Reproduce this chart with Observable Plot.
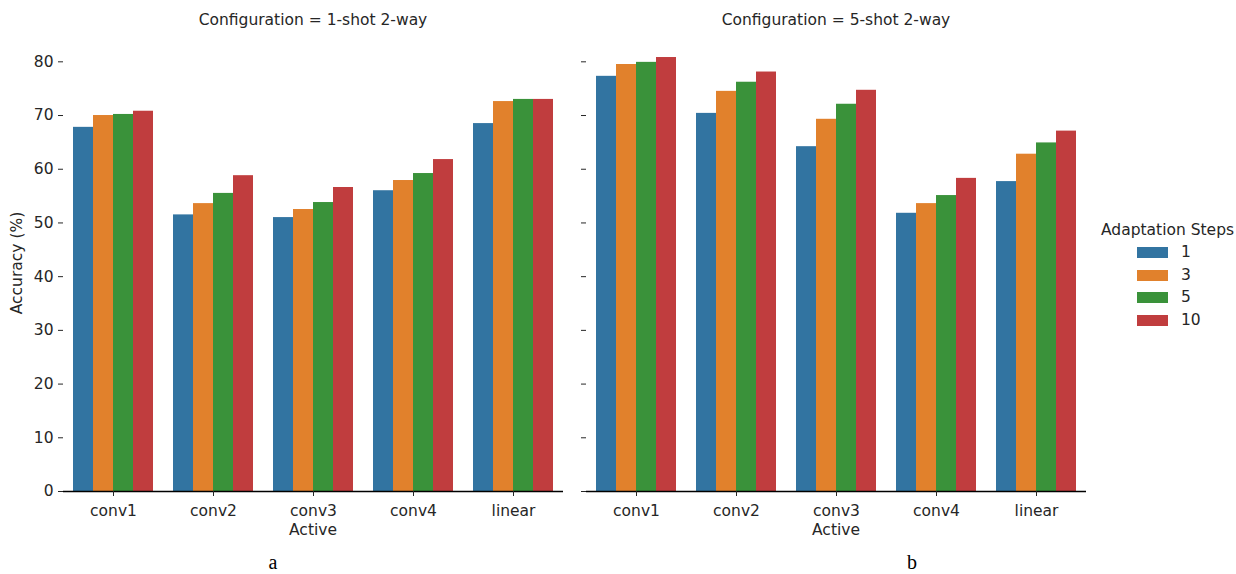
<!DOCTYPE html>
<html><head><meta charset="utf-8">
<script src="https://cdn.jsdelivr.net/npm/d3@7"></script>
<script src="https://cdn.jsdelivr.net/npm/@observablehq/plot@0.6"></script>
<style>
body{margin:0;background:#fff;}
#wrap{position:relative;width:1236px;height:574px;overflow:hidden;font-family:"DejaVu Sans";color:#262626;}
.abs{position:absolute;white-space:nowrap;line-height:1;}
.title{font-size:15.5px;transform:translate(-50%,-50%);}
.xlab{font-size:15.5px;transform:translate(-50%,-50%);}
.cap{font-family:"Liberation Serif";font-size:20px;line-height:20px;color:#000;transform:translate(-50%,-50%);}
.panel{position:absolute;top:0;}
</style></head><body><div id="wrap"></div>
<script>
const configurations = ["1-shot 2-way", "5-shot 2-way"];
const layers = ["conv1", "conv2", "conv3", "conv4", "linear"];
const steps = ["1", "3", "5", "10"];
const stepColors = ["#3274a1", "#e1812c", "#3a923a", "#c03d3e"];
const yTicks = [0, 10, 20, 30, 40, 50, 60, 70, 80];
const captions = ["a", "b"];

// Accuracy (%) per layer, one array per adaptation-step setting
const oneShotStep1  = [67.8, 51.5, 51.0, 56.0, 68.5];
const oneShotStep3  = [70.0, 53.6, 52.5, 57.9, 72.6];
const oneShotStep5  = [70.2, 55.5, 53.8, 59.2, 73.0];
const oneShotStep10 = [70.8, 58.8, 56.6, 61.8, 73.0];
const fiveShotStep1  = [77.3, 70.4, 64.2, 51.8, 57.7];
const fiveShotStep3  = [79.5, 74.5, 69.3, 53.6, 62.8];
const fiveShotStep5  = [79.9, 76.2, 72.1, 55.1, 64.9];
const fiveShotStep10 = [80.8, 78.1, 74.7, 58.3, 67.1];

const seriesByConfig = [
  [oneShotStep1, oneShotStep3, oneShotStep5, oneShotStep10],
  [fiveShotStep1, fiveShotStep3, fiveShotStep5, fiveShotStep10]
];

function rowsFor(ci) {
  const rows = [];
  seriesByConfig[ci].forEach((vals, si) => {
    vals.forEach((v, li) => rows.push({layer: layers[li], step: steps[si], acc: v}));
  });
  return rows;
}

const wrap = document.getElementById("wrap");

function panel(ci, showLabels) {
  return Plot.plot({
    width: 570, height: 540,
    marginLeft: 63, marginRight: 7, marginTop: 35, marginBottom: 49,
    style: {fontFamily: "DejaVu Sans", fontSize: "15.5px", color: "#262626", background: "transparent", overflow: "visible"},
    fx: {domain: layers, padding: 0, label: null},
    x: {domain: steps, paddingInner: 0, paddingOuter: 0.5, axis: null},
    y: {domain: [0, 84.9], label: null},
    color: {domain: steps, range: stepColors},
    marks: [
      Plot.barY(rowsFor(ci), {fx: "layer", x: "step", y: "acc", fill: "step", inset: 0}),
      Plot.ruleY([0], {stroke: "#000", strokeWidth: 1.6}),
      Plot.axisY({ticks: yTicks, tickSize: 5, tickPadding: 5, line: true, strokeWidth: 1,
                  tickFormat: showLabels ? (d => String(d)) : (() => ""), label: null}),
      Plot.axisFx({anchor: "bottom", tickSize: 5, tickPadding: 8, label: null})
    ]
  });
}

const panelLefts = [0, 523];
const panelCenters = [313, 836];
const captionX = [273, 912];

configurations.forEach((cfg, ci) => {
  const p = panel(ci, ci === 0);
  p.classList.add("panel");
  p.style.left = panelLefts[ci] + "px";
  wrap.appendChild(p);

  const t = document.createElement("div");
  t.className = "abs title";
  t.style.left = panelCenters[ci] + "px"; t.style.top = "21px";
  t.textContent = "Configuration = " + cfg;
  wrap.appendChild(t);

  const xl = document.createElement("div");
  xl.className = "abs xlab";
  xl.style.left = panelCenters[ci] + "px"; xl.style.top = "531px";
  xl.textContent = "Active";
  wrap.appendChild(xl);

  const c = document.createElement("div");
  c.className = "abs cap";
  c.style.left = captionX[ci] + "px"; c.style.top = "562px";
  c.textContent = captions[ci];
  wrap.appendChild(c);
});

// y label
const yl = document.createElement("div");
yl.className = "abs";
yl.style.cssText = "left:18px;top:263px;font-size:15.5px;transform:translate(-50%,-50%) rotate(-90deg);";
yl.textContent = "Accuracy (%)";
wrap.appendChild(yl);

// legend
const lt = document.createElement("div");
lt.className = "abs";
lt.style.cssText = "left:1101px;top:231px;font-size:15.5px;transform:translateY(-50%);";
lt.textContent = "Adaptation Steps";
wrap.appendChild(lt);
const rowY = [253, 276, 298, 321];
steps.forEach((s, i) => {
  const sw = document.createElement("div");
  sw.className = "abs";
  sw.style.cssText = `left:1137px;top:${rowY[i] - 6}px;width:31px;height:11px;background:${stepColors[i]};`;
  wrap.appendChild(sw);
  const lb = document.createElement("div");
  lb.className = "abs";
  lb.style.cssText = `left:1181px;top:${rowY[i]}px;font-size:15.5px;transform:translateY(-50%);`;
  lb.textContent = s;
  wrap.appendChild(lb);
});
</script></body></html>
